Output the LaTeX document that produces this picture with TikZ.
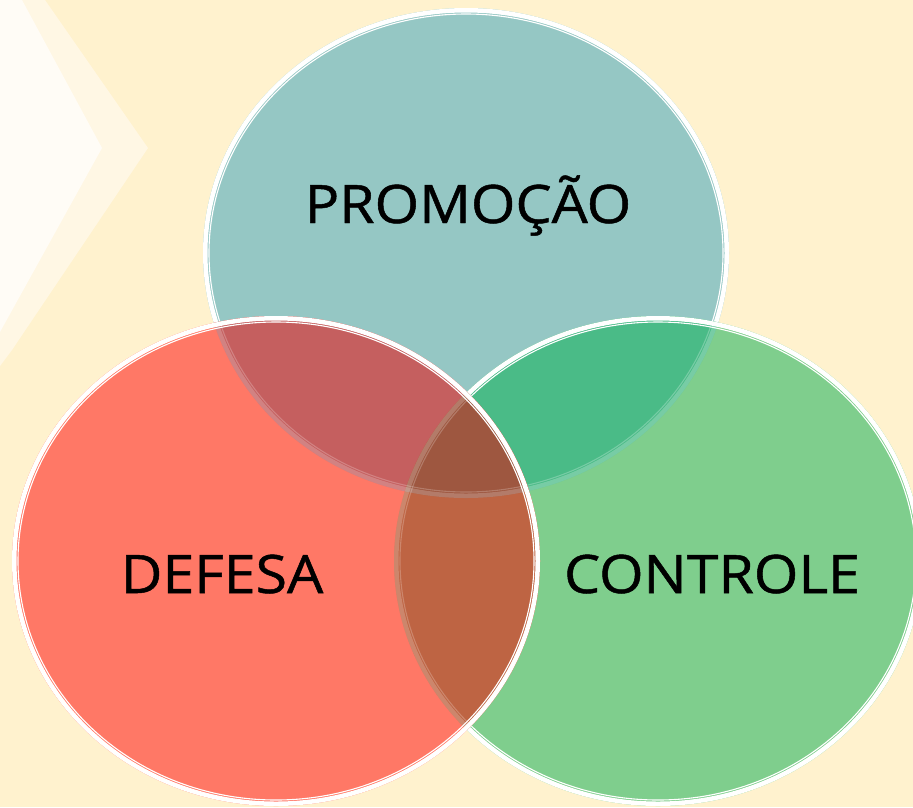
\documentclass[tikz,border=0pt]{standalone}
\usepackage{fontspec}
\setmainfont{Open Sans}
\newfontfamily\lblfont[FakeBold=0.9]{Open Sans}
\definecolor{bgcream}{RGB}{255,242,206}
\definecolor{chevA}{RGB}{255,247,228}
\definecolor{chevB}{RGB}{255,252,246}
\definecolor{tealc}{RGB}{149,199,196}
\definecolor{greenc}{RGB}{127,206,141}
\definecolor{redc}{RGB}{255,120,102}
\definecolor{tgc}{RGB}{74,187,135}
\definecolor{trc}{RGB}{197,95,95}
\definecolor{rgc}{RGB}{190,100,67}
\definecolor{allc}{RGB}{158,87,64}
\def\Tpath{(466,253) ellipse [x radius=263pt, y radius=245pt]}
\def\Lpath{(276,561) ellipse [x radius=264pt, y radius=245pt]}
\def\Rpath{(658,561) ellipse [x radius=264pt, y radius=245pt]}
\newcommand\vennrim[4]{% center, rx, ry, opacity
  \draw[white, line width=4.5pt, draw opacity=#4] #1 ellipse [x radius=#2pt-2.25pt, y radius=#3pt-2.25pt];
  \draw[white, line width=1.1pt, draw opacity=#4] #1 ellipse [x radius=#2pt-6pt, y radius=#3pt-6pt];
}
\tikzset{lbl/.style={anchor=base, inner sep=0pt, text=black, font=\lblfont\fontsize{53}{60}\selectfont, xscale=1.08, transform shape}}
\begin{document}
\begin{tikzpicture}[x=1pt,y=-1pt]
\useasboundingbox (0,0) rectangle (913,807);
\fill[bgcream] (0,0) rectangle (913,807);
% faint chevron
\fill[chevA] (0,0) -- (45,0) -- (148,148) -- (12,350) -- (0,366) -- cycle;
\fill[chevB] (0,0) -- (22,0) -- (102,148) -- (0,332) -- cycle;
% top circle
\fill[tealc] \Tpath;
\vennrim{(466,253)}{263}{245}{1}
% right circle
\fill[greenc] \Rpath;
\begin{scope}
  \clip \Tpath;
  \fill[tgc] \Rpath;
\end{scope}
\begin{scope}
  \clip \Rpath;
  \vennrim{(466,253)}{263}{245}{0.25}
\end{scope}
\vennrim{(658,561)}{264}{245}{1}
% left circle
\fill[redc] \Lpath;
\begin{scope}
  \clip \Lpath;
  \fill[trc] \Tpath;
  \fill[rgc] \Rpath;
  \clip \Tpath;
  \fill[allc] \Rpath;
\end{scope}
\begin{scope}
  \clip \Lpath;
  \vennrim{(466,253)}{263}{245}{0.22}
  \vennrim{(658,561)}{264}{245}{0.22}
\end{scope}
\vennrim{(276,561)}{264}{245}{1}
% labels
\node[lbl] (promo) at (468,223) {PROMOÇÃO};
\node[lbl] (defesa) at (222,593) {DEFESA};
\node[lbl] (controle) at (712,593) {CONTROLE};
\end{tikzpicture}
\end{document}
